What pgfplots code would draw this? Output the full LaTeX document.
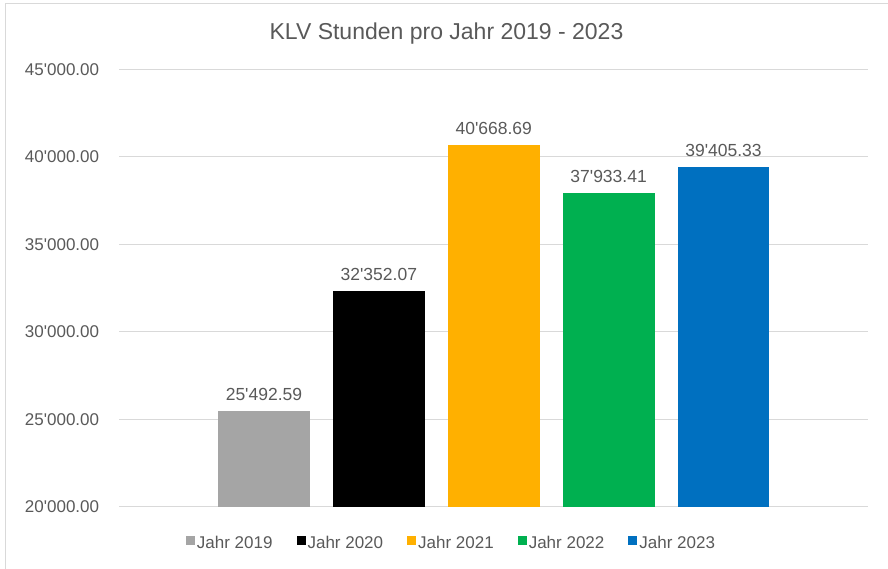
\documentclass[border=0pt]{standalone}
\usepackage{pgfplots}
\pgfplotsset{compat=1.18}
\usepackage{fontspec}
\setmainfont{Liberation Sans}[Ligatures=TeXOff]
\definecolor{txt}{HTML}{595959}
\definecolor{gridc}{HTML}{D9D9D9}
\definecolor{c19}{HTML}{A5A5A5}
\definecolor{c20}{HTML}{000000}
\definecolor{c21}{HTML}{FFB000}
\definecolor{c22}{HTML}{00B050}
\definecolor{c23}{HTML}{0070C0}
\begin{document}
\begin{tikzpicture}
\useasboundingbox (0bp,0bp) rectangle (888bp,569bp);
\draw[gridc, line width=1bp] (5.5bp,0bp) -- (5.5bp,565.5bp) -- (888bp,565.5bp);
\node[anchor=base, text=txt, font=\fontsize{23bp}{27bp}\selectfont] at (446.5bp,529bp) {KLV Stunden pro Jahr 2019 - 2023};
\begin{axis}[
  at={(119.3bp,62bp)}, anchor=south west,
  scale only axis, width=748.4bp, height=437.7bp,
  xmin=-1.259, xmax=5.255, ymin=20000, ymax=45000,
  ytick={20000,25000,...,45000}, xtick=\empty,
  scaled y ticks=false,
  /pgf/number format/fixed,
  /pgf/number format/fixed zerofill,
  /pgf/number format/precision=2,
  /pgf/number format/1000 sep={'},
  /pgf/number format/assume math mode=true,
  axis line style={draw=none},
  major tick length=0pt,
  ymajorgrids, grid style={draw=gridc, line width=1bp},
  yticklabel style={font=\fontsize{17bp}{20bp}\selectfont, text=txt, anchor=east, inner sep=0pt, xshift=-20bp},
  nodes near coords,
  every node near coord/.append style={font=\fontsize{17.5bp}{20bp}\selectfont, text=txt, anchor=south, inner sep=0pt, yshift=10bp},
  legend image code/.code={\fill[#1] (0bp,-1bp) rectangle (9bp,8bp);},
  legend columns=5,
  legend style={at={(0.4425,-0.0822)}, anchor=center, draw=none, fill=none,
    font=\fontsize{17bp}{20bp}\selectfont, text=txt, nodes={inner sep=0pt},
    /tikz/every even column/.append style={column sep=24bp},
    /tikz/every odd column/.append style={column sep=2bp}},
]
\addplot[ybar, bar width=0.8, bar shift=0pt, fill=c19, draw=none] coordinates {(0,25492.59)};
\addplot[ybar, bar width=0.8, bar shift=0pt, fill=c20, draw=none] coordinates {(1,32352.07)};
\addplot[ybar, bar width=0.8, bar shift=0pt, fill=c21, draw=none] coordinates {(2,40668.69)};
\addplot[ybar, bar width=0.8, bar shift=0pt, fill=c22, draw=none] coordinates {(3,37933.41)};
\addplot[ybar, bar width=0.8, bar shift=0pt, fill=c23, draw=none] coordinates {(4,39405.33)};
\legend{Jahr 2019, Jahr 2020, Jahr 2021, Jahr 2022, Jahr 2023}
\end{axis}
\end{tikzpicture}
\end{document}
